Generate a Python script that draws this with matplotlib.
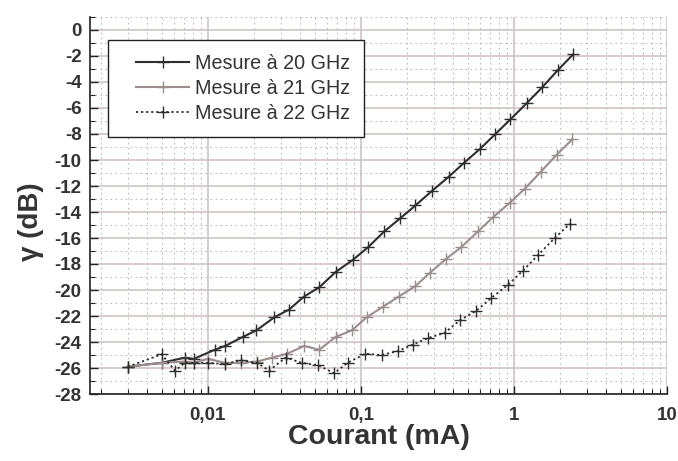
import matplotlib
matplotlib.use("Agg")
import matplotlib.pyplot as plt
from matplotlib.ticker import FixedLocator, FixedFormatter, LogLocator, MultipleLocator, NullFormatter
from matplotlib.legend_handler import HandlerLine2D

plt.rcParams['font.family'] = ['Liberation Sans', 'DejaVu Sans']

# Data (current in mA, gamma in dB)
x20 = [0.0030, 0.0050, 0.0071, 0.0081, 0.0111, 0.0130, 0.0170, 0.0208, 0.0272, 0.0340,
       0.0426, 0.0534, 0.0687, 0.0883, 0.1117, 0.142, 0.180, 0.227, 0.290, 0.374,
       0.474, 0.600, 0.757, 0.949, 1.21, 1.53, 1.93, 2.44]
y20 = [-25.9, -25.6, -25.2, -25.3, -24.6, -24.3, -23.6, -23.1, -22.1, -21.5,
       -20.5, -19.8, -18.6, -17.7, -16.7, -15.5, -14.5, -13.5, -12.4, -11.3,
       -10.2, -9.15, -8.0, -6.87, -5.64, -4.41, -3.1, -1.87]

x21 = [0.0030, 0.0050, 0.0071, 0.0081, 0.0100, 0.0130, 0.0164, 0.0210, 0.0264, 0.0331,
       0.0426, 0.0534, 0.0687, 0.0875, 0.109, 0.139, 0.177, 0.227, 0.281, 0.361,
       0.453, 0.582, 0.730, 0.938, 1.18, 1.50, 1.90, 2.41]
y21 = [-25.9, -25.6, -25.5, -25.6, -25.3, -25.6, -25.6, -25.5, -25.2, -24.9,
       -24.3, -24.6, -23.6, -23.1, -22.1, -21.3, -20.5, -19.7, -18.7, -17.6,
       -16.7, -15.5, -14.4, -13.3, -12.2, -10.9, -9.6, -8.4]

x22 = [0.0030, 0.0050, 0.0061, 0.0071, 0.0081, 0.0100, 0.0130, 0.0164, 0.0210, 0.0251,
       0.0323, 0.0411, 0.0528, 0.0670, 0.0819, 0.107, 0.137, 0.174, 0.218, 0.274,
       0.352, 0.447, 0.567, 0.713, 0.915, 1.148, 1.44, 1.85, 2.32]
y22 = [-25.9, -24.95, -26.2, -25.6, -25.6, -25.6, -25.7, -25.4, -25.6, -26.2,
       -25.2, -25.6, -25.8, -26.4, -25.6, -24.9, -25.0, -24.7, -24.2, -23.7,
       -23.3, -22.3, -21.6, -20.6, -19.6, -18.5, -17.3, -16.0, -14.9]

labels = ["Mesure à 20 GHz", "Mesure à 21 GHz", "Mesure à 22 GHz"]
xticks = [0.01, 0.1, 1, 10]
xticklabels = ["0,01", "0,1", "1", "10"]
yticks = list(range(0, -29, -2))
yticklabels = [str(v) for v in yticks]

txt = '#333333'
fig = plt.figure(figsize=(6.78, 4.61), dpi=100)
ax = fig.add_axes([90 / 678, 67 / 461, 577 / 678, 377 / 461])

ax.plot(x20, y20, color='#2e2e2e', lw=1.5, marker='+', ms=8, mew=1.0, label=labels[0])
ax.plot(x21, y21, color='#9c8e8c', lw=1.5, marker='+', ms=8, mew=1.0, label=labels[1])
ax.plot(x22, y22, color='#2e2e2e', lw=1.3, ls=(0, (1.2, 1.6)), marker='+', ms=8, mew=1.0, label=labels[2])

ax.set_xscale('log')
ax.set_xlim(0.0017, 10)
ax.set_ylim(-28, 1)

ax.xaxis.set_major_locator(FixedLocator(xticks))
ax.xaxis.set_major_formatter(FixedFormatter(xticklabels))
ax.xaxis.set_minor_locator(LogLocator(base=10, subs=range(2, 10), numticks=20))
ax.xaxis.set_minor_formatter(NullFormatter())
ax.yaxis.set_major_locator(FixedLocator(yticks))
ax.yaxis.set_major_formatter(FixedFormatter(yticklabels))
ax.yaxis.set_minor_locator(MultipleLocator(1))

ax.grid(which='major', color='#cfc4c4', lw=1.2, ls='-')
ax.grid(which='minor', color='#bdbdbd', lw=0.8, ls=(0, (1.5, 3)))
ax.set_axisbelow(True)

for s in ['top', 'right']:
    ax.spines[s].set_visible(False)
for s in ['left', 'bottom']:
    ax.spines[s].set_color('#222222')
    ax.spines[s].set_linewidth(1.2)

ax.tick_params(which='major', direction='in', length=6, width=1, color='#222222',
               labelsize=13.5, labelcolor=txt)
ax.tick_params(which='minor', direction='in', length=3.5, width=0.8, color='#222222')
ax.tick_params(axis='y', which='major', pad=6)
ax.tick_params(axis='x', which='major', pad=9)
for lab in ax.get_xticklabels() + ax.get_yticklabels():
    lab.set_fontweight('bold')

ax.set_xlabel("Courant (mA)", fontsize=20.5, fontweight='bold', color=txt, va='top')
ax.set_ylabel("γ (dB)", fontsize=20, fontweight='bold', color=txt)
ax.xaxis.set_label_coords(0.5, -0.080)
ax.yaxis.set_label_coords(-0.080, 0.456)

fs = 14.2
hmap = {h: HandlerLine2D(xpad=0.7) for h in ax.get_lines()}
leg = ax.legend(loc='upper left', bbox_to_anchor=(18 / 577, (394 - 40) / 377), fontsize=fs,
                frameon=True, fancybox=False, edgecolor='#222222', framealpha=1,
                handlelength=3.4, borderpad=0.72, labelspacing=0.3, handletextpad=0.3,
                borderaxespad=0, handler_map=hmap)
leg.get_frame().set_linewidth(1.0)
for t in leg.get_texts():
    t.set_color(txt)

fig.savefig("out.png", dpi=100)
